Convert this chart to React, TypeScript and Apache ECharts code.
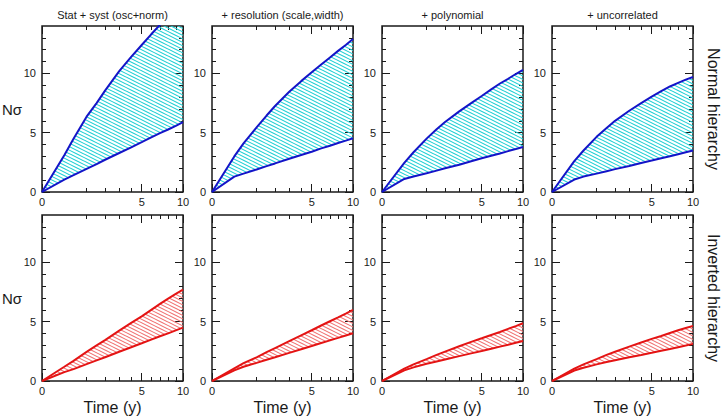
import React, { useEffect, useRef } from "react";
import * as echarts from "echarts";

// Column headings and row (mass hierarchy) labels
const columnTitles = [
  "Stat + syst (osc+norm)",
  "+ resolution (scale,width)",
  "+ polynomial",
  "+ uncorrelated",
];
const rowLabels = ["Normal hierarchy", "Inverted hierarchy"];

// Exposure time (years) at which the sensitivity bands are sampled
const timeYears = [0, 0.25, 0.5, 1, 1.5, 2, 3, 4, 5, 6, 7, 8, 9, 10];

// Normal hierarchy: upper / lower edge of the N-sigma band
const nhStatSystUpper = [0, 3.1, 4.5, 6.35, 7.5, 8.55, 10.2, 11.4, 12.4, 13.3, 14.1, 14.8, 15.5, 16.1];
const nhStatSystLower = [0, 1.05, 1.42, 1.95, 2.35, 2.72, 3.29, 3.77, 4.2, 4.6, 4.96, 5.27, 5.58, 5.89];
const nhResolutionUpper = [0, 3.0, 4.1, 5.45, 6.45, 7.25, 8.45, 9.35, 10.1, 10.75, 11.35, 11.9, 12.4, 12.9];
const nhResolutionLower = [0, 1.3, 1.55, 1.9, 2.18, 2.41, 2.8, 3.12, 3.4, 3.68, 3.9, 4.13, 4.33, 4.53];
const nhPolynomialUpper = [0, 2.45, 3.35, 4.5, 5.3, 5.9, 6.8, 7.5, 8.1, 8.65, 9.15, 9.55, 9.95, 10.3];
const nhPolynomialLower = [0, 1.1, 1.3, 1.58, 1.8, 2.0, 2.3, 2.6, 2.85, 3.05, 3.25, 3.45, 3.62, 3.8];
const nhUncorrelatedUpper = [0, 2.6, 3.5, 4.65, 5.4, 6.0, 6.85, 7.5, 8.05, 8.5, 8.9, 9.2, 9.48, 9.7];
const nhUncorrelatedLower = [0, 1.05, 1.3, 1.55, 1.75, 1.93, 2.2, 2.45, 2.65, 2.85, 3.02, 3.18, 3.35, 3.5];

// Inverted hierarchy: upper / lower edge of the N-sigma band
const ihStatSystUpper = [0, 1.2, 1.7, 2.45, 3.0, 3.45, 4.25, 4.9, 5.45, 6.0, 6.5, 6.95, 7.35, 7.7];
const ihStatSystLower = [0, 0.75, 1.0, 1.42, 1.74, 2.0, 2.47, 2.85, 3.18, 3.49, 3.77, 4.02, 4.27, 4.5];
const ihResolutionUpper = [0, 1.07, 1.5, 2.0, 2.43, 2.78, 3.36, 3.85, 4.28, 4.68, 5.04, 5.37, 5.69, 6.0];
const ihResolutionLower = [0, 0.9, 1.2, 1.53, 1.79, 2.0, 2.37, 2.68, 2.95, 3.2, 3.43, 3.64, 3.84, 4.03];
const ihPolynomialUpper = [0, 1.05, 1.4, 1.85, 2.2, 2.48, 2.93, 3.3, 3.6, 3.88, 4.13, 4.4, 4.63, 4.87];
const ihPolynomialLower = [0, 0.9, 1.15, 1.45, 1.65, 1.82, 2.1, 2.33, 2.53, 2.72, 2.9, 3.06, 3.22, 3.38];
const ihUncorrelatedUpper = [0, 1.05, 1.4, 1.85, 2.2, 2.47, 2.9, 3.25, 3.55, 3.8, 4.05, 4.28, 4.47, 4.65];
const ihUncorrelatedLower = [0, 0.88, 1.12, 1.4, 1.6, 1.75, 2.0, 2.2, 2.38, 2.55, 2.7, 2.85, 2.99, 3.13];

// Axis ticks (time axis is drawn on a square-root scale)
const timeMajorTicks = [0, 5, 10];
const timeMinorTicks = [1, 2, 3, 4, 6, 7, 8, 9];
const sigmaMajorTicks = [0, 5, 10];
const sigmaMinorTicks = [1, 2, 3, 4, 6, 7, 8, 9, 11, 12, 13];
const sigmaMax = 14;
const timeMax = 10;

const panels = [
  { row: 0, col: 0, upper: nhStatSystUpper, lower: nhStatSystLower },
  { row: 0, col: 1, upper: nhResolutionUpper, lower: nhResolutionLower },
  { row: 0, col: 2, upper: nhPolynomialUpper, lower: nhPolynomialLower },
  { row: 0, col: 3, upper: nhUncorrelatedUpper, lower: nhUncorrelatedLower },
  { row: 1, col: 0, upper: ihStatSystUpper, lower: ihStatSystLower },
  { row: 1, col: 1, upper: ihResolutionUpper, lower: ihResolutionLower },
  { row: 1, col: 2, upper: ihPolynomialUpper, lower: ihPolynomialLower },
  { row: 1, col: 3, upper: ihUncorrelatedUpper, lower: ihUncorrelatedLower },
];

const FONT = "'Liberation Sans', Arial, Helvetica, sans-serif";
const INK = "#1a1a1a";
const GRID_LEFT = [42, 212, 382, 552];
const GRID_TOP = [26, 215];
const GRID_W = 141;
const GRID_H = 166;
const LINE_COLOR = ["#1414c8", "#e41414"];
const HATCH_COLOR = ["#1ccfd4", "#f07070"];

const sq = (t: number) => Math.sqrt(t);

// Diagonal "\\\" hatching tile used to fill the band between two curves
function hatchPattern(color: string) {
  const c = document.createElement("canvas");
  c.width = 14;
  c.height = 7;
  const g = c.getContext("2d")!;
  g.strokeStyle = color;
  g.lineWidth = 1.1;
  for (let k = -3; k <= 3; k++) {
    const off = k * 3.5;
    g.beginPath();
    g.moveTo(-14, -7 + off);
    g.lineTo(28, 14 + off);
    g.stroke();
  }
  return { image: c, repeat: "repeat", imageWidth: 14, imageHeight: 7 };
}

function tickAxisX(grid: number, position: string, values: number[], length: number, labels: boolean) {
  return {
    type: "value",
    gridIndex: grid,
    position,
    min: 0,
    max: sq(timeMax),
    axisLine: { show: false, onZero: false },
    splitLine: { show: false },
    axisTick: {
      show: true,
      inside: true,
      length,
      customValues: values.map(sq),
      lineStyle: { color: INK, width: 1 },
    },
    axisLabel: labels
      ? {
          show: true,
          customValues: values.map(sq),
          formatter: (v: number) => String(Math.round(v * v)),
          fontSize: 11,
          fontFamily: FONT,
          color: INK,
          margin: 4,
        }
      : { show: false },
  };
}

function tickAxisY(grid: number, position: string, values: number[], length: number, labels: boolean) {
  return {
    type: "value",
    gridIndex: grid,
    position,
    min: 0,
    max: sigmaMax,
    axisLine: { show: false, onZero: false },
    splitLine: { show: false },
    axisTick: {
      show: true,
      inside: true,
      length,
      customValues: values,
      lineStyle: { color: INK, width: 1 },
    },
    axisLabel: labels
      ? {
          show: true,
          customValues: values,
          fontSize: 11,
          fontFamily: FONT,
          color: INK,
          margin: 6,
        }
      : { show: false },
  };
}

export default function App() {
  const ref = useRef<HTMLDivElement>(null);

  useEffect(() => {
    if (!ref.current) return;
    const chart = echarts.init(ref.current, undefined, { renderer: "svg" });
    const patterns = HATCH_COLOR.map(hatchPattern);

    const grid: any[] = [];
    const xAxis: any[] = [];
    const yAxis: any[] = [];
    const series: any[] = [];

    panels.forEach((p, i) => {
      grid.push({
        left: GRID_LEFT[p.col],
        top: GRID_TOP[p.row],
        width: GRID_W,
        height: GRID_H,
        show: true,
        borderColor: INK,
        borderWidth: 1.5,
        backgroundColor: "#fff",
      });
      xAxis.push(
        tickAxisX(i, "bottom", timeMajorTicks, 8, true),
        tickAxisX(i, "bottom", timeMinorTicks, 4, false),
        tickAxisX(i, "top", timeMajorTicks, 8, false),
        tickAxisX(i, "top", timeMinorTicks, 4, false)
      );
      yAxis.push(
        tickAxisY(i, "left", sigmaMajorTicks, 8, true),
        tickAxisY(i, "left", sigmaMinorTicks, 4, false),
        tickAxisY(i, "right", sigmaMajorTicks, 8, false),
        tickAxisY(i, "right", sigmaMinorTicks, 4, false)
      );
      const color = LINE_COLOR[p.row];
      const pattern = patterns[p.row];
      const bandData = timeYears.map((t, j) => [sq(t), p.lower[j], p.upper[j]]);

      // Hatched band between the lower and upper curves
      series.push({
        type: "custom",
        xAxisIndex: 4 * i,
        yAxisIndex: 4 * i,
        clip: true,
        silent: true,
        encode: { x: 0, y: [1, 2] },
        data: bandData,
        z: 1,
        renderItem: (params: any, api: any) => {
          if (params.dataIndex !== 0) return null;
          const top = bandData.map((d) => api.coord([d[0], d[2]]));
          const bottom = bandData.map((d) => api.coord([d[0], d[1]])).reverse();
          return {
            type: "polygon",
            shape: { points: top.concat(bottom) },
            style: { fill: pattern, stroke: null },
          };
        },
      });
      // Band edges
      [p.lower, p.upper].forEach((vals) => {
        series.push({
          type: "line",
          xAxisIndex: 4 * i,
          yAxisIndex: 4 * i,
          symbol: "none",
          silent: true,
          lineStyle: { color, width: 2 },
          data: vals.map((v, j) => [sq(timeYears[j]), v]),
          z: 3,
        });
      });
    });

    const graphic: any[] = [];
    columnTitles.forEach((t, c) => {
      const cx = GRID_LEFT[c] + GRID_W / 2;
      graphic.push({
        type: "text",
        x: cx,
        y: 15,
        style: { text: t, fill: INK, font: `11px ${FONT}`, textAlign: "center", textVerticalAlign: "middle" },
      });
      graphic.push({
        type: "text",
        x: cx,
        y: 407,
        style: { text: "Time (y)", fill: INK, font: `16px ${FONT}`, textAlign: "center", textVerticalAlign: "middle" },
      });
    });
    rowLabels.forEach((t, r) => {
      const cy = GRID_TOP[r] + GRID_H / 2;
      graphic.push({
        type: "text",
        x: 12,
        y: cy,
        style: { text: "Nσ", fill: INK, font: `15px ${FONT}`, textAlign: "center", textVerticalAlign: "middle" },
      });
      graphic.push({
        type: "text",
        x: 713,
        y: cy,
        rotation: -Math.PI / 2,
        style: { text: t, fill: INK, font: `16px ${FONT}`, textAlign: "center", textVerticalAlign: "middle" },
      });
    });

    chart.setOption({
      animation: false,
      backgroundColor: "#fff",
      textStyle: { fontFamily: FONT },
      grid,
      xAxis,
      yAxis,
      series,
      graphic,
    });

    return () => chart.dispose();
  }, []);

  return (
    <div
      ref={ref}
      style={{ position: "fixed", left: 0, top: 0, width: 726, height: 420 }}
    />
  );
}
